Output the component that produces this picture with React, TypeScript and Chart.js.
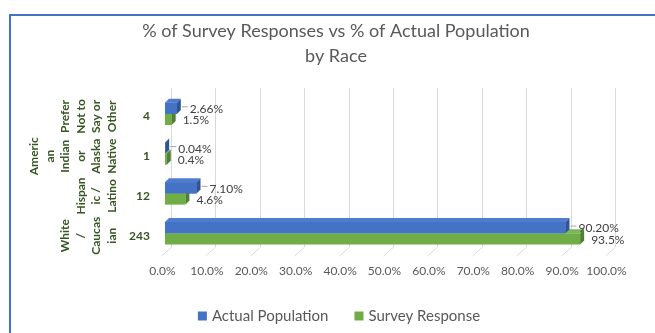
import React, { useEffect, useRef } from "react";
import { Chart, registerables } from "chart.js";

Chart.register(...registerables);

// ---- data (top to bottom as shown) ----
const categoryLines: string[][] = [
  ["Prefer", "Not to", "Say or", "Other"],
  ["Americ", "an", "Indian", "or", "Alaska", "Native"],
  ["Hispan", "ic /", "Latino"],
  ["White", "/", "Caucas", "ian"],
];
const responseCounts = ["4", "1", "12", "243"];
const actualPopulation = [2.66, 0.04, 7.1, 90.2];
const surveyResponse = [1.5, 0.4, 4.6, 93.5];
const seriesNames = ["Actual Population", "Survey Response"];
const titleLines = ["% of Survey Responses vs % of Actual Population", "by Race"];

// ---- styles ----
const FONT = "Lato, 'Open Sans', 'DejaVu Sans', sans-serif";
const BLUE = "#4472C4";
const BLUE_TOP = "#4E7DD0";
const BLUE_SIDE = "#2F5597";
const GREEN = "#70AD47";
const GREEN_TOP = "#7AB853";
const GREEN_SIDE = "#507E32";
const DEPTH = 4;

const decorPlugin = {
  id: "decor",
  beforeDatasetsDraw(chart: any) {
    const { ctx, chartArea: ca, scales } = chart;
    const x = scales.x;
    ctx.save();
    ctx.strokeStyle = "#d9d9d9";
    ctx.lineWidth = 1;
    for (let v = 0; v <= 100; v += 10) {
      const px = Math.round(x.getPixelForValue(v)) + 0.5;
      ctx.beginPath();
      ctx.moveTo(px + 6, ca.top - 6);
      ctx.lineTo(px + 6, ca.bottom - 6);
      ctx.lineTo(px - 4, ca.bottom + 3);
      ctx.stroke();
    }
    ctx.restore();
  },
  afterDatasetsDraw(chart: any) {
    const { ctx } = chart;
    const metaA = chart.getDatasetMeta(0);
    const metaS = chart.getDatasetMeta(1);
    const faces = (bar: any, topC: string, sideC: string, frontC?: string) => {
      const { x, y, base, height } = bar.getProps(["x", "y", "base", "height"], true);
      const t = y - height / 2;
      const b = y + height / 2;
      if (frontC) {
        ctx.fillStyle = frontC;
        ctx.fillRect(base, t, x - base, b - t);
      }
      ctx.fillStyle = topC;
      ctx.beginPath();
      ctx.moveTo(base, t);
      ctx.lineTo(x, t);
      ctx.lineTo(x + DEPTH, t - DEPTH);
      ctx.lineTo(base + DEPTH, t - DEPTH);
      ctx.closePath();
      ctx.fill();
      ctx.fillStyle = sideC;
      ctx.beginPath();
      ctx.moveTo(x, t);
      ctx.lineTo(x + DEPTH, t - DEPTH);
      ctx.lineTo(x + DEPTH, b - DEPTH);
      ctx.lineTo(x, b);
      ctx.closePath();
      ctx.fill();
    };
    ctx.save();
    metaS.data.forEach((bar: any) => faces(bar, GREEN_TOP, GREEN_SIDE));
    metaA.data.forEach((bar: any) => faces(bar, BLUE_TOP, BLUE_SIDE, BLUE));

    // data labels
    ctx.font = `12px ${FONT}`;
    ctx.textAlign = "left";
    ctx.textBaseline = "middle";
    metaA.data.forEach((bar: any, i: number) => {
      const { x, y } = bar.getProps(["x", "y"], true);
      ctx.strokeStyle = "#a6a6a6";
      ctx.lineWidth = 1;
      ctx.beginPath();
      ctx.moveTo(x + DEPTH + 1, y - 1.5);
      ctx.lineTo(x + 11, y - 1.5);
      ctx.stroke();
      ctx.fillStyle = "#404040";
      ctx.fillText(actualPopulation[i].toFixed(2) + "%", x + 13, y + 1);
    });
    metaS.data.forEach((bar: any, i: number) => {
      const { x, y } = bar.getProps(["x", "y"], true);
      ctx.fillStyle = "#404040";
      ctx.fillText(surveyResponse[i].toFixed(1) + "%", x + 11, y + 1);
    });
    ctx.restore();
  },
  afterDraw(chart: any) {
    const { ctx, scales } = chart;
    const yS = scales.y;
    ctx.save();
    // title
    ctx.fillStyle = "#595959";
    ctx.font = `18px ${FONT}`;
    ctx.textAlign = "center";
    ctx.textBaseline = "middle";
    titleLines.forEach((line, i) => ctx.fillText(line, 336, 31 + i * 25));

    // rotated category names
    ctx.fillStyle = "#375623";
    ctx.font = `bold 12px ${FONT}`;
    categoryLines.forEach((lines, i) => {
      const yc = yS.getPixelForValue(i) + 2.5;
      const n = lines.length;
      lines.forEach((line, j) => {
        const cx = 112 - (n - 1 - j) * 15.5;
        ctx.save();
        ctx.translate(cx, yc);
        ctx.rotate(-Math.PI / 2);
        ctx.fillText(line, 0, 0);
        ctx.restore();
      });
    });
    // legend
    ctx.font = `15px ${FONT}`;
    ctx.textAlign = "left";
    const w1 = ctx.measureText(seriesNames[0]).width;
    const w2 = ctx.measureText(seriesNames[1]).width;
    const box = 9, gapBT = 5, gapItems = 26;
    const total = box + gapBT + w1 + gapItems + box + gapBT + w2;
    let x0 = 339 - total / 2;
    const yc = 316;
    ctx.fillStyle = BLUE;
    ctx.fillRect(x0, yc - 4.5, box, box);
    ctx.fillStyle = "#595959";
    ctx.fillText(seriesNames[0], x0 + box + gapBT, yc);
    x0 += box + gapBT + w1 + gapItems;
    ctx.fillStyle = GREEN;
    ctx.fillRect(x0, yc - 4.5, box, box);
    ctx.fillStyle = "#595959";
    ctx.fillText(seriesNames[1], x0 + box + gapBT, yc);
    ctx.restore();
  },
};

export default function App() {
  const ref = useRef<HTMLCanvasElement | null>(null);
  useEffect(() => {
    if (!ref.current) return;
    const chart = new Chart(ref.current, {
      type: "bar",
      data: {
        labels: responseCounts,
        datasets: [
          {
            label: seriesNames[0],
            data: actualPopulation,
            backgroundColor: BLUE,
            borderWidth: 0,
            barPercentage: 1,
            categoryPercentage: 0.5625,
          },
          {
            label: seriesNames[1],
            data: surveyResponse,
            backgroundColor: GREEN,
            borderWidth: 0,
            barPercentage: 1,
            categoryPercentage: 0.5625,
          },
        ],
      },
      options: {
        indexAxis: "y",
        responsive: false,
        animation: false,
        events: [],
        layout: { padding: { left: 0, right: 46, top: 94, bottom: 44.5 } },
        plugins: {
          legend: { display: false },
          tooltip: { enabled: false },
          title: { display: false },
        },
        scales: {
          x: {
            min: 0,
            max: 100,
            ticks: {
              stepSize: 10,
              callback: (v: any) => Number(v).toFixed(1) + "%",
              color: "#595959",
              font: { family: FONT, size: 12 },
              padding: 10.5,
              labelOffset: -2.5,
              maxRotation: 0,
              autoSkip: false,
            },
            grid: { display: false, drawTicks: false },
            border: { display: false },
          },
          y: {
            ticks: {
              color: "#375623",
              font: { family: FONT, size: 12, weight: "bold" },
              padding: 15,
              labelOffset: 2.5,
            },
            grid: { display: false, drawTicks: false },
            border: { display: false },
            afterFit: (s: any) => {
              s.width = 165;
            },
          },
        },
      } as any,
      plugins: [decorPlugin],
    });
    return () => chart.destroy();
  }, []);

  return (
    <div style={{ position: "fixed", left: 0, top: 0, width: 655, height: 333, background: "#fff" }}>
      <canvas ref={ref} width={655} height={333} style={{ display: "block", width: 655, height: 333 }} />
      <div
        style={{
          position: "absolute",
          left: 9,
          top: 14,
          right: 0,
          bottom: 0,
          borderTop: "2px solid #4472C4",
          borderLeft: "2px solid #4472C4",
          pointerEvents: "none",
        }}
      />
    </div>
  );
}
